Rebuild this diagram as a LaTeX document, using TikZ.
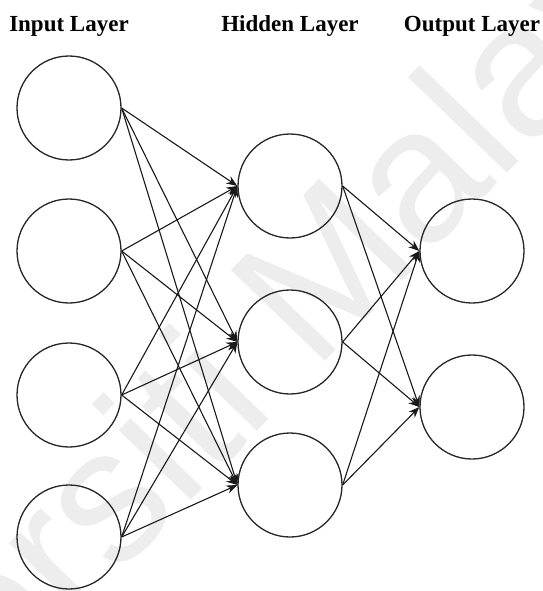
\documentclass[tikz,border=0pt]{standalone}
\usepackage{fontspec}
\setmainfont{Liberation Serif}
\newfontfamily\wmfont{Liberation Sans}
\usetikzlibrary{arrows.meta}

\tikzset{
  neuron/.style={circle, draw=black!85, line width=1.3pt, minimum size=104pt, inner sep=0pt},
  layertitle/.style={font=\bfseries\fontsize{23}{27}\selectfont, anchor=base, inner sep=0pt},
  link/.style={draw=black!90, line width=1.1pt, -{Stealth[length=11pt, width=8.5pt]}},
  watermark/.style={font=\wmfont\fontsize{190}{200}\selectfont, text=black!7, anchor=base, inner sep=0pt}
}

\begin{document}
\begin{tikzpicture}[x=1pt, y=-1pt]
  \useasboundingbox (0,0) rectangle (542,591);
  \clip (0,0) rectangle (542,591);

  % faint diagonal watermark behind the network
  \node[watermark, rotate=46] (wm) at (238,452) {Universiti Malaya};

  % layer titles
  \node[layertitle] (tin)  at (69,31.5)  {Input Layer};
  \node[layertitle] (thid) at (290,31.5) {Hidden Layer};
  \node[layertitle] (tout) at (472,31.5) {Output Layer};

  % input layer
  \node[neuron] (i1) at (69,108) {};
  \node[neuron] (i2) at (69,251) {};
  \node[neuron] (i3) at (69,395) {};
  \node[neuron] (i4) at (69,537) {};

  % hidden layer
  \node[neuron] (h1) at (290,186) {};
  \node[neuron] (h2) at (290,342) {};
  \node[neuron] (h3) at (290,485) {};

  % output layer
  \node[neuron] (o1) at (472,251) {};
  \node[neuron] (o2) at (472,407) {};

  % fully connected: input -> hidden
  \foreach \s in {i1,i2,i3,i4}
    \foreach \t in {h1,h2,h3}
      \draw[link] (\s.east) -- (\t.west);

  % fully connected: hidden -> output
  \foreach \s in {h1,h2,h3}
    \foreach \t in {o1,o2}
      \draw[link] (\s.east) -- (\t.west);
\end{tikzpicture}
\end{document}
